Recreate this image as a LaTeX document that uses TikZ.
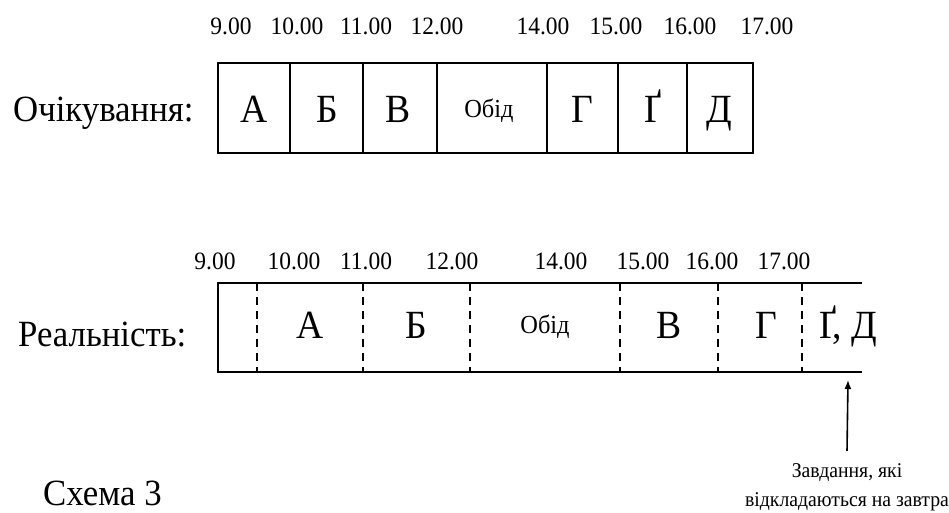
\documentclass[tikz,border=0pt]{standalone}
\usepackage{fontspec}
\setmainfont{Liberation Serif}[FakeStretch=0.94]
\usetikzlibrary{arrows.meta}

\tikzset{
  bigtext/.style={font=\fontsize{37}{44}\selectfont, anchor=base, inner sep=0pt},
  tasktext/.style={font=\fontsize{40}{46}\selectfont, anchor=base, inner sep=0pt},
  timetext/.style={font=\fontsize{25}{30}\selectfont, anchor=base, inner sep=0pt},
  lunchtext/.style={font=\fontsize{26}{30}\selectfont, anchor=base, inner sep=0pt},
  notetext/.style={font=\fontsize{21}{29}\selectfont, align=center, anchor=base, inner sep=0pt},
  boxline/.style={line width=2.6pt},
  slotline/.style={line width=2.4pt, dash pattern=on 8pt off 6pt},
}

\begin{document}
\begin{tikzpicture}[x=1pt, y=-1pt]
    \useasboundingbox (0,0) rectangle (949,513);

    % Expected day
    \node[bigtext, anchor=base west] (expect) at (13,122) {Очікування:};
    \draw[boxline] (218,63) rectangle (753,153);
    \foreach \x in {290,363,437,547,618,687} {
        \draw[boxline] (\x,63) -- (\x,153);
    }

    % Hours above the expected day
    \foreach \x/\t [count=\i] in {231/9.00, 297/10.00, 366/11.00, 437/12.00, 543/14.00, 616/15.00, 690/16.00, 767/17.00} {
        \node[timetext] (hexp\i) at (\x,35) {\t};
    }

    % Tasks of the expected day
    \foreach \x/\t [count=\i] in {254/А, 327/Б, 398/В, 582/Г, 653/Ґ, 719/Д} {
        \node[tasktext] (texp\i) at (\x,123) {\t};
    }
    \node[lunchtext] (lexp) at (489,118) {Обід};

    % Real day (open on the right)
    \node[bigtext, anchor=base west] (real) at (18,346) {Реальність:};
    \draw[boxline] (862,283) -- (218,283) -- (218,372) -- (862,372);
    \foreach \x in {257,363,470,620,718,802} {
        \draw[slotline] (\x,283) -- (\x,372);
    }

    % Hours above the real day
    \foreach \x/\t [count=\i] in {215/9.00, 294/10.00, 366/11.00, 452/12.00, 561/14.00, 643/15.00, 712/16.00, 784/17.00} {
        \node[timetext] (hreal\i) at (\x,269) {\t};
    }

    % Tasks of the real day
    \foreach \x/\t [count=\i] in {310/А, 416/Б, 669/В, 766/Г, 848/{Ґ, Д}} {
        \node[tasktext] (treal\i) at (\x,338) {\t};
    }
    \node[lunchtext] (lreal) at (545,333) {Обід};

    % Postponed tasks
    \node[notetext] (note) at (847,506) {Завдання, які\\відкладаються на завтра};
    \coordinate (late) at (848,380);
    \draw[line width=1.6pt, -{Latex[length=9pt, width=7pt]}] ([yshift=12pt]note.north) -- (late);

    % Caption
    \node[bigtext, anchor=base west] (caption) at (43,505) {Схема 3};
\end{tikzpicture}
\end{document}
